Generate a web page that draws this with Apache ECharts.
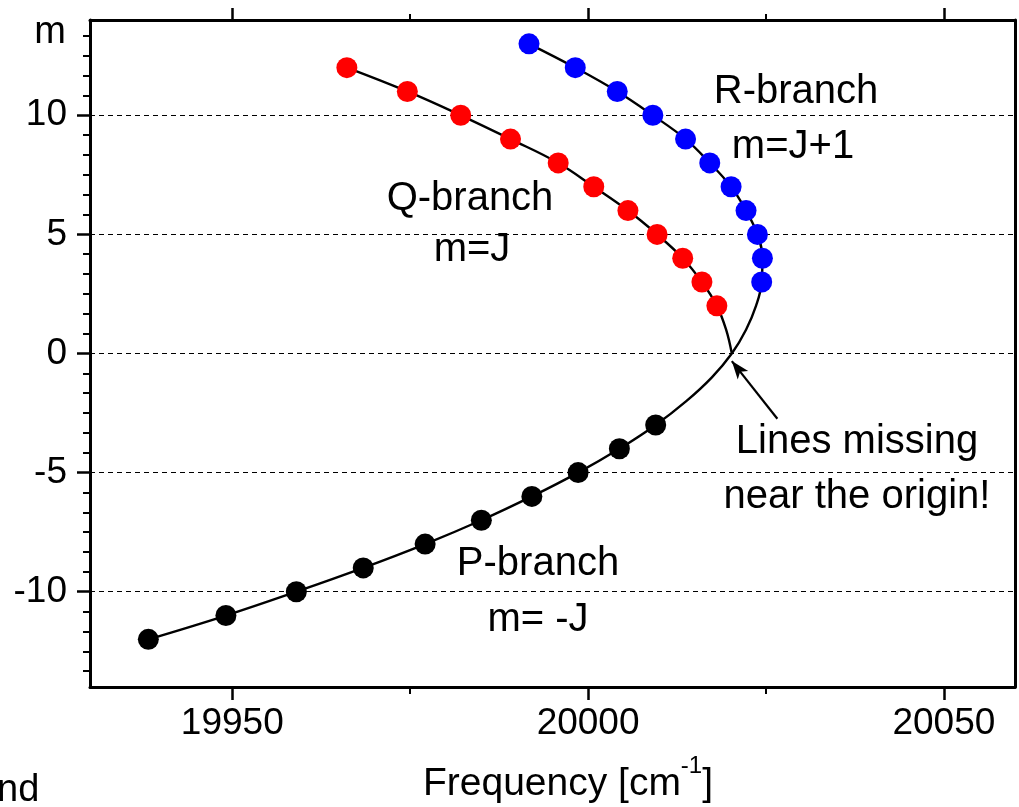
<!DOCTYPE html>
<html>
<head>
<meta charset="utf-8">
<script src="https://cdn.jsdelivr.net/npm/echarts@6/dist/echarts.min.js"></script>
<style>
html,body{margin:0;padding:0;background:#fff;}
#chart{width:1019px;height:807px;}
</style>
</head>
<body>
<div id="chart"></div>
<script>
// ---- axis ticks ----
const xMajorTicks = [19950, 20000, 20050];
const xMinorTicks = [19975, 20025];
const yMajorTicks = [-10, -5, 0, 5, 10];

// ---- measured lines (m, frequency in cm^-1) ----
const pBranchM  = [-12, -11, -10, -9, -8, -7, -6, -5, -4, -3];
const pBranchNu = [19938.2, 19949.1, 19959.0, 19968.4, 19977.1, 19985.0, 19992.1, 19998.6, 20004.4, 20009.5];

const qBranchM  = [2, 3, 4, 5, 6, 7, 8, 9, 10, 11, 12];
const qBranchNu = [20018.1, 20016.0, 20013.3, 20009.7, 20005.6, 20000.8, 19995.8, 19989.1, 19982.1, 19974.6, 19966.1];

const rBranchM  = [3, 4, 5, 6, 7, 8, 9, 10, 11, 12, 13];
const rBranchNu = [20024.4, 20024.5, 20023.8, 20022.2, 20020.1, 20017.1, 20013.7, 20009.1, 20004.1, 19998.2, 19991.7];

// ---- fitted curves (gap region near the origin) ----
const prGapM  = [-2, -1, 0, 1, 2];
const prGapNu = [20013.8, 20017.4, 20020.2, 20022.2, 20023.6];
const qGapM   = [0, 1];
const qGapNu  = [20020.2, 20019.4];

// ---- annotation arrow (data coordinates) ----
const arrowTail = [20026.6, -2.74];
const arrowTip  = [20020.2, -0.32];

// ---- texts ----
const yAxisName = 'm';
const xAxisTitle = 'Frequency [cm{sup|-1}]';
const annotationTexts = ['R-branch', 'm=J+1', 'Q-branch', 'm=J', 'P-branch', 'm= -J', 'Lines missing', 'near the origin!', 'nd'];

function zip(xs, ys) { return xs.map((x, i) => [x, ys[i]]); }

// y minor ticks: 5 minor ticks between majors (6 sub-intervals)
const yMinorTicks = [];
const yStep = yMajorTicks[1] - yMajorTicks[0];
for (let k = 1; k <= 4; k++) yMinorTicks.push(yMajorTicks[0] - k * yStep / 6);
for (let i = 0; i < yMajorTicks.length - 1; i++) {
  for (let k = 1; k < 6; k++) yMinorTicks.push(yMajorTicks[i] + k * yStep / 6);
}
for (let k = 1; k <= 4; k++) yMinorTicks.push(yMajorTicks[yMajorTicks.length - 1] + k * yStep / 6);

const prCurve = zip(pBranchNu, pBranchM).concat(zip(prGapNu, prGapM), zip(rBranchNu, rBranchM));
const qCurve = zip(qGapNu, qGapM).concat(zip(qBranchNu, qBranchM));

const FONT = '"Liberation Sans", Arial, sans-serif';
const XMIN = 19930, XMAX = 20060, YMIN = -14, YMAX = 14;
const lineBlack = { color: '#000', width: 3 };

function xAxisDef(pos, ticks, len, width, withLabel, withLine) {
  return {
    type: 'value', position: pos, offset: 0, min: XMIN, max: XMAX,
    axisLine: { show: withLine, onZero: false, lineStyle: lineBlack },
    axisTick: { show: true, inside: false, customValues: ticks, length: len, lineStyle: { color: '#000', width: width } },
    axisLabel: withLabel ? { show: true, customValues: ticks, formatter: v => String(v), fontSize: 37, fontFamily: FONT, color: '#000', margin: 18 } : { show: false },
    splitLine: { show: false }, minorTick: { show: false }
  };
}

function annot(i, x, y, size) {
  return { type: 'text', x: x, y: y, style: { text: annotationTexts[i], fontSize: size || 40, fontFamily: FONT, fill: '#000', align: 'center', verticalAlign: 'middle' } };
}

const chart = echarts.init(document.getElementById('chart'), null, { renderer: 'canvas' });
chart.setOption({
  animation: false,
  backgroundColor: '#fff',
  grid: { left: 90, right: 4, top: 20, bottom: 120, containLabel: false, outerBoundsMode: 'none' },
  xAxis: [
    xAxisDef('bottom', xMajorTicks, 13, 2.5, true, true),
    xAxisDef('bottom', xMinorTicks, 7, 2, false, false),
    xAxisDef('top', xMajorTicks, 12, 2.5, false, true),
    xAxisDef('top', xMinorTicks, 6, 2, false, false)
  ],
  yAxis: [
    {
      type: 'value', position: 'left', offset: 0, min: YMIN, max: YMAX,
      axisLine: { show: true, onZero: false, lineStyle: lineBlack },
      axisTick: { show: true, customValues: yMajorTicks, length: 13, lineStyle: { color: '#000', width: 2.5 } },
      axisLabel: { customValues: yMajorTicks, formatter: v => String(v), fontSize: 37, fontFamily: FONT, color: '#000', margin: 23 },
      splitLine: { show: true, showMinLine: true, showMaxLine: true, lineStyle: { color: '#000', width: 1.2, type: [5, 4] } },
      minorTick: { show: false }
    },
    {
      type: 'value', position: 'left', offset: 0, min: YMIN, max: YMAX,
      axisLine: { show: false },
      axisTick: { show: true, customValues: yMinorTicks, length: 7, lineStyle: { color: '#000', width: 2 } },
      axisLabel: { show: false }, splitLine: { show: false }
    },
    {
      type: 'value', position: 'right', offset: 0, min: YMIN, max: YMAX,
      axisLine: { show: true, onZero: false, lineStyle: lineBlack },
      axisTick: { show: false }, axisLabel: { show: false }, splitLine: { show: false }
    }
  ],
  series: [
    {
      name: 'P/R fit', type: 'line', data: prCurve, symbol: 'none', smooth: 0.4,
      lineStyle: { color: '#000', width: 2.4 }, z: 2,
      markLine: {
        silent: true, animation: false, symbol: ['none', 'arrow'], symbolSize: [10, 18],
        lineStyle: { color: '#000', width: 2.2, type: 'solid' }, label: { show: false },
        data: [[{ coord: arrowTail }, { coord: arrowTip }]]
      }
    },
    { name: 'Q fit', type: 'line', data: qCurve, symbol: 'none', smooth: 0.4, lineStyle: { color: '#000', width: 2.4 }, z: 2 },
    { name: 'P-branch', type: 'scatter', data: zip(pBranchNu, pBranchM), symbol: 'circle', symbolSize: 21, itemStyle: { color: '#000', opacity: 1 }, z: 3 },
    { name: 'Q-branch', type: 'scatter', data: zip(qBranchNu, qBranchM), symbol: 'circle', symbolSize: 21, itemStyle: { color: '#ff0000', opacity: 1 }, z: 3 },
    { name: 'R-branch', type: 'scatter', data: zip(rBranchNu, rBranchM), symbol: 'circle', symbolSize: 21, itemStyle: { color: '#0000ff', opacity: 1 }, z: 3 }
  ],
  graphic: [
    { type: 'text', x: 66, y: 33, style: { text: yAxisName, fontSize: 38, fontFamily: FONT, fill: '#000', align: 'right', verticalAlign: 'middle' } },
    { type: 'text', x: 568, y: 784, style: { text: xAxisTitle, fontSize: 39, fontFamily: FONT, fill: '#000', align: 'center', verticalAlign: 'middle', lineHeight: 60,
      rich: { sup: { fontSize: 24, fontFamily: FONT, fill: '#000', verticalAlign: 'top', lineHeight: 24 } } } },
    annot(0, 796, 92),
    annot(1, 793, 147),
    annot(2, 470, 199),
    annot(3, 472, 250),
    annot(4, 538, 564),
    annot(5, 538, 620),
    annot(6, 857, 442),
    annot(7, 857, 497),
    { type: 'text', x: -3, y: 791, style: { text: annotationTexts[8], fontSize: 38, fontFamily: FONT, fill: '#000', align: 'left', verticalAlign: 'middle' } }
  ]
});
</script>
</body>
</html>
